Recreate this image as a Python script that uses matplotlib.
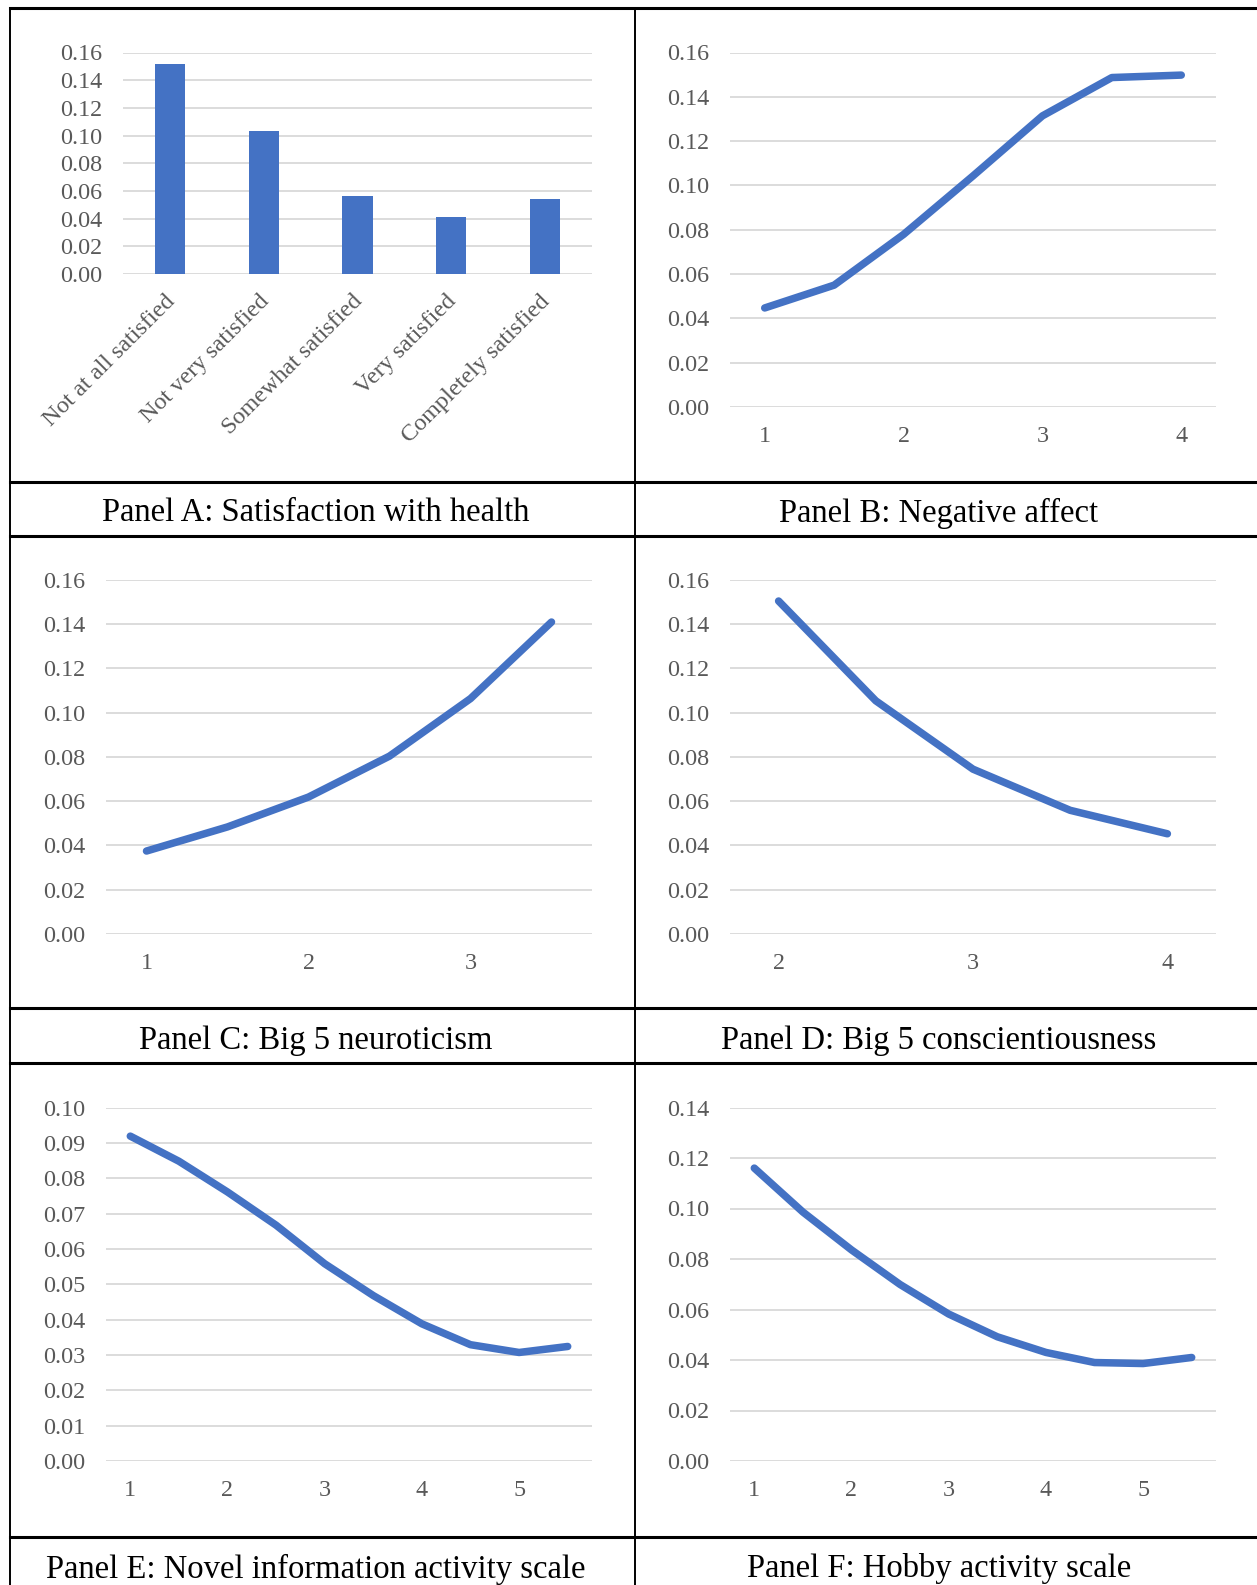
import matplotlib
matplotlib.use("Agg")
import matplotlib.pyplot as plt
from matplotlib.lines import Line2D
from matplotlib.transforms import ScaledTranslation

# ---------------- data ----------------
a_categories = ["Not at all satisfied", "Not very satisfied", "Somewhat satisfied",
                "Very satisfied", "Completely satisfied"]
a_values = [0.152, 0.103, 0.056, 0.041, 0.054]

b_x = [1, 1.5, 2, 2.5, 3, 3.5, 4]
b_values = [0.0447, 0.055, 0.0779, 0.1043, 0.1314, 0.1487, 0.1498]

c_x = [1, 1.5, 2, 2.5, 3, 3.5]
c_values = [0.0375, 0.0484, 0.0619, 0.0804, 0.1064, 0.1410]

d_x = [2, 2.5, 3, 3.5, 4]
d_values = [0.1505, 0.1054, 0.0745, 0.0559, 0.0453]

e_x = [1, 1.5, 2, 2.5, 3, 3.5, 4, 4.5, 5, 5.5]
e_values = [0.0919, 0.0848, 0.0761, 0.0667, 0.0558, 0.0468, 0.0388, 0.0329, 0.0307, 0.0324]

f_x = [1, 1.5, 2, 2.5, 3, 3.5, 4, 4.5, 5, 5.5]
f_values = [0.1160, 0.0986, 0.0836, 0.0699, 0.0582, 0.0492, 0.0430, 0.0390, 0.0386, 0.0410]

captions = ["Panel A: Satisfaction with health", "Panel B: Negative affect",
            "Panel C: Big 5 neuroticism", "Panel D: Big 5 conscientiousness",
            "Panel E: Novel information activity scale", "Panel F: Hobby activity scale"]

# ---------------- style ----------------
W, H = 1257, 1585
DPI = 100
plt.rcParams['font.family'] = ['Liberation Serif', 'DejaVu Serif']
BLUE = "#4472C4"
GRID = "#D9D9D9"
TICKC = "#595959"
TFS = 17.4

fig = plt.figure(figsize=(W / DPI, H / DPI), dpi=DPI)
fig.patch.set_facecolor("white")


def add_ax(left, right, top, bottom):
    return fig.add_axes([left / W, 1 - bottom / H, (right - left) / W, (bottom - top) / H])


def style(ax, ymax, ystep, fmt="{:.2f}"):
    ax.set_ylim(0, ymax)
    ticks = [round(i * ystep, 4) for i in range(int(round(ymax / ystep)) + 1)]
    ax.set_yticks(ticks)
    ax.set_yticklabels([fmt.format(t) for t in ticks])
    for s in ax.spines.values():
        s.set_visible(False)
    ax.yaxis.grid(True, color=GRID, linewidth=1.3)
    ax.set_axisbelow(True)
    ax.tick_params(axis='both', length=0, labelsize=TFS, labelcolor=TICKC)
    ax.tick_params(axis='y', pad=15)
    ax.tick_params(axis='x', pad=14)


def line(ax, x, y, xmin, xmax, xticks):
    ax.plot(x, y, color=BLUE, linewidth=5.4, solid_capstyle='round', solid_joinstyle='round')
    ax.set_xlim(xmin, xmax)
    ax.set_xticks(xticks)
    ax.set_xticklabels([str(t) for t in xticks])


# Panel A
axA = add_ax(123, 592, 52.5, 274)
pos = list(range(len(a_categories)))
axA.bar(pos, a_values, width=0.32, color=BLUE, zorder=3)
axA.set_xlim(-0.5, len(a_categories) - 0.5)
style(axA, 0.16, 0.02)
axA.set_xticks(pos)
axA.set_xticklabels(a_categories, rotation=45, ha='right', va='top', rotation_mode='anchor')
axA.tick_params(axis='x', pad=12)
for lab in axA.get_xticklabels():
    lab.set_transform(lab.get_transform() + ScaledTranslation(-4 / 72, 0, fig.dpi_scale_trans))

# Panel B
axB = add_ax(730, 1216, 52.5, 407)
line(axB, b_x, b_values, 0.75, 4.25, [1, 2, 3, 4])
style(axB, 0.16, 0.02)

# Panel C
axC = add_ax(106, 592, 580, 934)
line(axC, c_x, c_values, 0.75, 3.75, [1, 2, 3])
style(axC, 0.16, 0.02)

# Panel D
axD = add_ax(730, 1216, 580, 934)
line(axD, d_x, d_values, 1.75, 4.25, [2, 3, 4])
style(axD, 0.16, 0.02)

# Panel E
axE = add_ax(106, 592, 1107.5, 1461)
line(axE, e_x, e_values, 0.75, 5.75, [1, 2, 3, 4, 5])
style(axE, 0.10, 0.01)

# Panel F
axF = add_ax(730, 1216, 1107.5, 1461)
line(axF, f_x, f_values, 0.75, 5.75, [1, 2, 3, 4, 5])
style(axF, 0.14, 0.02)

# ---------------- table lines ----------------
def hline(y, x0=10, x1=W, lw=2.2):
    fig.add_artist(Line2D([x0 / W, x1 / W], [1 - y / H, 1 - y / H], color="black", linewidth=lw))


def vline(x, y0, y1, lw=1.4):
    fig.add_artist(Line2D([x / W, x / W], [1 - y0 / H, 1 - y1 / H], color="black", linewidth=lw))


for y in [8, 482, 536, 1008, 1063, 1537]:
    hline(y)
vline(10, 8, H)
vline(635, 8, H)

# captions
cap_pos = [(316, 513), (939, 513), (316, 1041), (939, 1041), (316, 1569), (939, 1569)]
for (cx, cy), txt in zip(cap_pos, captions):
    fig.text(cx / W, 1 - cy / H, txt, ha='center', va='center', fontsize=23.5, color='black')

fig.savefig("out.png", dpi=DPI, facecolor="white")
